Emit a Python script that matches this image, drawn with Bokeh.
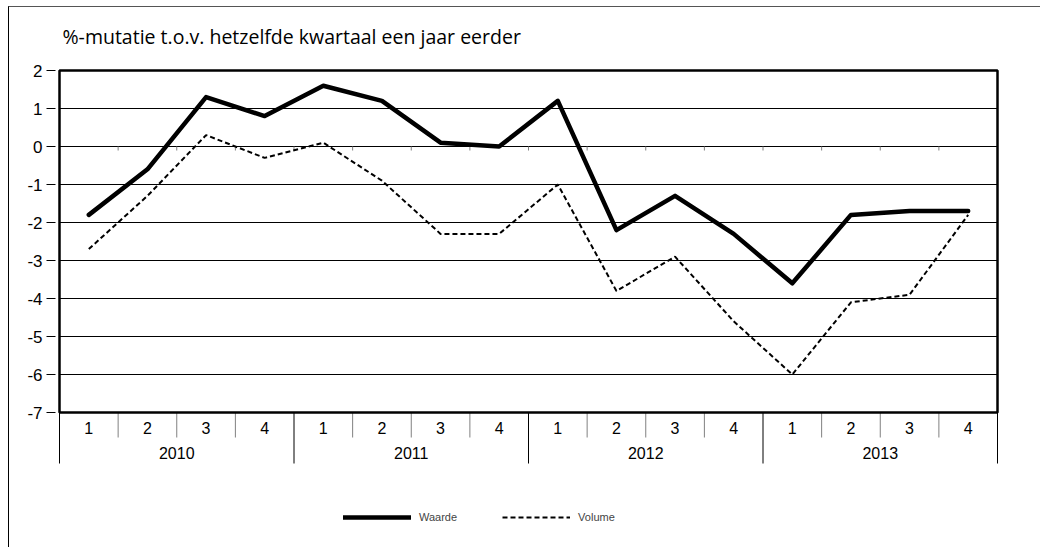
from bokeh.plotting import figure
from bokeh.models import Range1d, FixedTicker, Legend, LegendItem, Label
from bokeh.core.properties import value
from bokeh.embed import file_html
from bokeh.resources import INLINE

years = ["2010", "2011", "2012", "2013"]
quarters = ["1", "2", "3", "4"]
waarde = [-1.8, -0.6, 1.3, 0.8, 1.6, 1.2, 0.1, 0.0, 1.2, -2.2, -1.3, -2.3, -3.6, -1.8, -1.7, -1.7]
volume = [-2.7, -1.3, 0.3, -0.3, 0.1, -0.9, -2.3, -2.3, -1.0, -3.8, -2.9, -4.6, -6.0, -4.1, -3.9, -1.8]
y_ticks = [-7, -6, -5, -4, -3, -2, -1, 0, 1, 2]
y_title = "%-mutatie  t.o.v. hetzelfde kwartaal een jaar eerder"

n = len(waarde)
nq = len(quarters)
xs = [i + 0.5 for i in range(n)]
y_lo, y_hi = y_ticks[0], y_ticks[-1]
py = 38.0      # pixels per y unit
pxx = 938 / n  # pixels per category

p = figure(width=1032, height=541, output_backend="svg", toolbar_location=None,
           x_range=Range1d(-4 / pxx, n + 4 / pxx),
           y_range=Range1d(y_lo - 136 / py, y_hi + 63 / py),
           x_axis_location=None,
           min_border_left=46, min_border_right=40, min_border_top=0, min_border_bottom=0)
p.margin = (6, 0, 0, 8)
p.styles = {"border-left": "1px solid #000", "border-top": "1px solid #555"}
p.outline_line_color = None
p.background_fill_color = "white"
p.border_fill_color = "white"

# y axis
p.yaxis.ticker = FixedTicker(ticks=y_ticks)
p.yaxis.major_label_overrides = {t: str(t) for t in y_ticks}
p.yaxis.major_tick_out = 9
p.yaxis.major_tick_in = 0
p.yaxis.minor_tick_line_color = None
p.yaxis.axis_line_color = None
p.yaxis.major_label_text_font = "Liberation Sans"
p.yaxis.major_label_text_font_size = "17px"
p.yaxis.major_label_text_color = "black"
p.yaxis.major_label_standoff = 4

p.xgrid.grid_line_color = None
p.ygrid.grid_line_color = None

q_bounds = [i for i in range(n + 1) if i % nq != 0]
year_bounds = [i * nq for i in range(len(years) + 1)]
year_centers = [b + nq / 2 for b in year_bounds[:-1]]

# horizontal gridlines inside the plot area
p.segment(x0=[0] * len(y_ticks), y0=y_ticks, x1=[n] * len(y_ticks), y1=y_ticks,
          line_color="black", line_width=1)

# category separators below the plot area
p.segment(x0=q_bounds, y0=[y_lo] * len(q_bounds), x1=q_bounds,
          y1=[y_lo - 25 / py] * len(q_bounds), line_color="#808080", line_width=1)
p.segment(x0=year_bounds, y0=[y_lo] * len(year_bounds), x1=year_bounds,
          y1=[y_lo - 51 / py] * len(year_bounds), line_color="black", line_width=1)

# small tick marks on the zero line
p.segment(x0=list(range(1, n)), y0=[0] * (n - 1), x1=list(range(1, n)),
          y1=[-4 / py] * (n - 1), line_color="#808080", line_width=1)

# plot-area box
p.quad(left=[0], right=[n], bottom=[y_lo], top=[y_hi], fill_color=None,
       line_color="black", line_width=2.5)

# category labels
p.text(x=xs, y=[y_lo - 15 / py] * n, text=[quarters[i % nq] for i in range(n)],
       text_align="center", text_baseline="middle", text_font=value("Liberation Sans"),
       text_font_size="16px", text_color="black")
p.text(x=year_centers, y=[y_lo - 40 / py] * len(years), text=years,
       text_align="center", text_baseline="middle", text_font=value("Liberation Sans"),
       text_font_size="16px", text_color="black")

# unit text
p.add_layout(Label(x=3 / pxx, y=y_hi + 34 / py, text=y_title, text_align="left",
                   text_baseline="middle", text_font="Open Sans", text_font_size="19.5px",
                   text_color="black"))

r_vol = p.line(xs, volume, line_color="black", line_width=2, line_dash="5 3")
r_wrd = p.line(xs, waarde, line_color="black", line_width=4.5, line_join="round", line_cap="round")

legend = Legend(items=[LegendItem(label="Waarde", renderers=[r_wrd]),
                       LegendItem(label="Volume", renderers=[r_vol])],
                location=(288, 23), orientation="horizontal",
                glyph_width=68, glyph_height=16, label_text_font="Liberation Sans",
                label_text_font_size="11px", label_standoff=8, spacing=45,
                padding=0, margin=0, border_line_color=None, background_fill_alpha=0)
p.add_layout(legend, "center")

open("out.html", "w").write(file_html(p, INLINE))
